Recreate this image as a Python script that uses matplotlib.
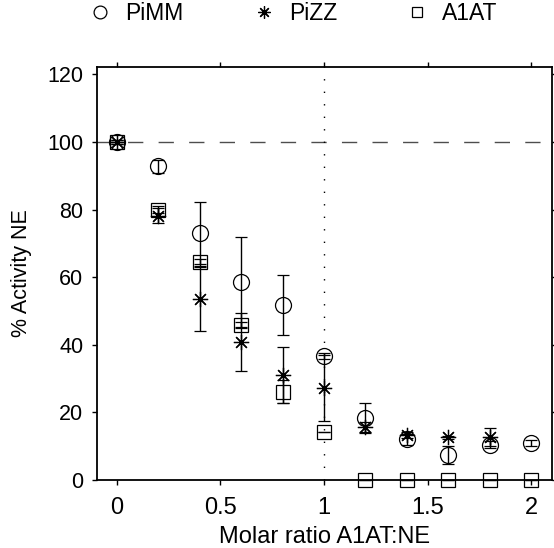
import numpy as np
import matplotlib
matplotlib.use("Agg")
import matplotlib.pyplot as plt
from matplotlib.lines import Line2D

plt.rcParams['font.family'] = ['Liberation Sans', 'DejaVu Sans']

# molar ratio A1AT:NE
ratio = [0, 0.2, 0.4, 0.6, 0.8, 1.0, 1.2, 1.4, 1.6, 1.8, 2.0]

# % activity NE and error
pimm = [100, 92.8, 73.2, 58.5, 51.8, 36.7, 18.4, 12.0, 7.4, 10.4, 10.9]
pimm_err = [0.5, 2.0, 9.2, 13.3, 9.0, 1.0, 4.5, 1.5, 2.8, 1.0, 0.8]

pizz = [100, 78.2, 53.5, 40.8, 31.1, 27.3, 15.8, 13.3, 12.6, 12.8, np.nan]
pizz_err = [0.5, 2.2, 9.4, 8.5, 8.4, 9.8, 1.5, 1.0, 0.5, 2.6, np.nan]

a1at = [100, 80.0, 64.4, 45.9, 26.1, 14.3, 0, 0, 0, 0, 0]
a1at_err = [0.5, 1.0, 1.0, 0.8, 3.4, 0.0, 0, 0, 0, 0, 0]

series = [('PiMM', pimm, pimm_err, 'o', 11.5),
          ('PiZZ', pizz, pizz_err, (8, 2, 0), 11),
          ('A1AT', a1at, a1at_err, 's', 9.5)]

fig = plt.figure(figsize=(5.54, 5.48), dpi=100)
ax = fig.add_axes([0.1745, 0.1241, 0.8213, 0.7542])

handles = []
for name, vals, err, mk, ms in series:
    bars = ax.errorbar(ratio, vals, yerr=err, marker=mk, markersize=ms, color='k',
                       ecolor='k', elinewidth=1.0, capsize=4, capthick=1.0,
                       linestyle='none', markerfacecolor='none', markeredgewidth=0.9)
    for art in bars.get_children():
        art.set_clip_on(False)
    handles.append(Line2D([], [], marker=mk, markersize=ms * 0.8, color='k',
                          linestyle='none', markerfacecolor='none',
                          markeredgewidth=0.9, label=name))

ax.axhline(100, color='0.3', lw=1.0, linestyle=(0, (11, 11)), zorder=0)
ax.axvline(1, color='k', lw=1.0, linestyle=(0, (1, 8)), zorder=0)

ax.set_xlim(-0.097, 2.099)
ax.set_ylim(0, 122.3)
ax.set_xticks([0, 0.5, 1, 1.5, 2])
ax.set_xticklabels(['0', '0.5', '1', '1.5', '2'])
ax.set_yticks([0, 20, 40, 60, 80, 100, 120])

for s in ax.spines.values():
    s.set_linewidth(1.3)
ax.tick_params(direction='out', length=3.5, width=1.0, top=True, right=True)
ax.tick_params(axis='x', labelsize=17, pad=9)
ax.tick_params(axis='y', labelsize=15.5, pad=6)

ax.set_xlabel('Molar ratio A1AT:NE', fontsize=17, labelpad=5)
ax.set_ylabel('% Activity NE', fontsize=15.5, labelpad=11)

fig.legend(handles=handles, ncol=3, loc='center', bbox_to_anchor=(0.529, 0.976),
           frameon=False, fontsize=16.5, handlelength=1.0, handletextpad=0.6,
           columnspacing=3.0)

fig.savefig('out.png', dpi=100)
